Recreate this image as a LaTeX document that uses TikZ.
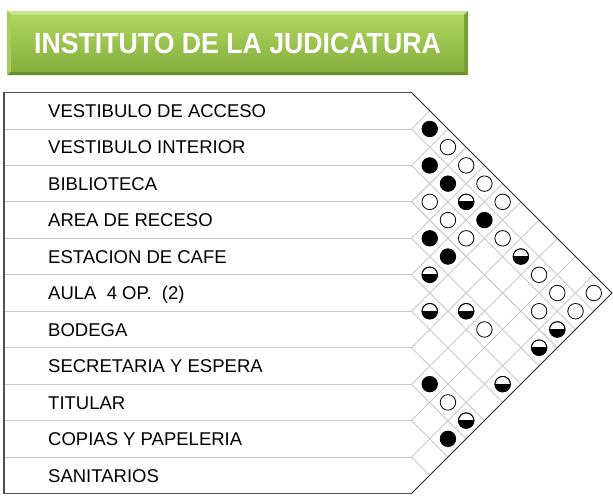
\documentclass[tikz,border=0pt]{standalone}
\usepackage{fontspec}
\setmainfont{Liberation Sans}
\newfontfamily\titlefont[FakeStretch=0.92]{Liberation Sans}
\definecolor{gridgray}{HTML}{C8C8C8}
\definecolor{bordergray}{HTML}{505050}
\definecolor{gtop}{HTML}{AED65E}
\definecolor{gbot}{HTML}{86AE3E}
\definecolor{gedge}{HTML}{7DA336}
\definecolor{glight}{HTML}{C6E48A}
\definecolor{gdark}{HTML}{6A8E2C}
\begin{document}
\begin{tikzpicture}[x=1pt,y=-1pt,
  rowline/.style={gridgray,line width=0.9pt},
  gridline/.style={gridgray,line width=0.9pt},
  border/.style={bordergray,line width=1.4pt},
  diag/.style={black!85,line width=1pt},
  rowlabel/.style={anchor=base west,inner sep=0,font=\fontsize{18.5}{20}\selectfont},
  fullrel/.style={circle,draw=black,fill=black,minimum size=15.5pt,inner sep=0,outer sep=0,line width=0.8pt},
  emptyrel/.style={circle,draw=black,fill=white,minimum size=15.5pt,inner sep=0,outer sep=0,line width=0.8pt},
  titlebox/.style={inner sep=0,text=white,font=\titlefont\bfseries\fontsize{29}{32}\selectfont}]
\useasboundingbox (0,0) rectangle (613,496);
\pgfmathsetmacro\T{92.5}
\pgfmathsetmacro\B{493.5}
\pgfmathsetmacro\XR{411.5}
\pgfmathsetmacro\H{(\B-\T)/11}
\pgfmathsetmacro\M{(\T+\B)/2}
\pgfmathsetmacro\XT{\XR+(\B-\T)/2}
% title box
\fill[gedge] (7,11) rectangle (468,75);
\fill[glight] (7,11) -- (468,11) -- (464,15) -- (11,15) -- cycle;
\fill[gdark] (7,75) -- (468,75) -- (464,71) -- (11,71) -- cycle;
\fill[gtop!85!gbot] (7,11) -- (11,15) -- (11,71) -- (7,75) -- cycle;
\fill[gbot!90!black] (468,11) -- (464,15) -- (464,71) -- (468,75) -- cycle;
\shade[top color=gtop,bottom color=gbot] (11,15) rectangle (464,71);
\node[titlebox] (title) at (237.5,44) {INSTITUTO DE LA JUDICATURA};
% table rows and grid
\foreach \k in {1,...,10} {
  \pgfmathsetmacro\yk{\T+\k*\H}
  \pgfmathsetmacro\tu{(\yk-\T)/2}
  \pgfmathsetmacro\td{(\B-\yk)/2}
  \draw[rowline] (4,\yk) -- (\XR,\yk);
  \draw[gridline] (\XR,\yk) -- ++(\tu,-\tu);
  \draw[gridline] (\XR,\yk) -- ++(\td,\td);
}
\draw[border] (4,\B) -- (4,\T) -- (\XR,\T);
\draw[border] (4,\B) -- (\XR,\B);
\draw[diag] (\XR,\T) -- (\XT,\M) -- (\XR,\B);
% labels
\foreach \lab [count=\n from 0] in {VESTIBULO DE ACCESO,VESTIBULO INTERIOR,BIBLIOTECA,AREA DE RECESO,ESTACION DE CAFE,AULA\ \ 4 OP.\ \ (2),BODEGA,SECRETARIA Y ESPERA,TITULAR,COPIAS Y PAPELERIA,SANITARIOS} {
  \pgfmathsetmacro\yb{\T+(\n+0.5)*\H+6.8}
  \node[rowlabel] (r\n) at (48,\yb) {\lab};
}
% relations: full
\foreach \i/\j in {0/1,1/2,1/3,1/5,3/4,3/5,7/8,8/10} {
  \pgfmathsetmacro\cx{\XR+(\j-\i)*\H/2}
  \pgfmathsetmacro\cy{\T+(\i+\j+1)*\H/2}
  \node[fullrel] (f\i-\j) at (\cx,\cy) {};
}
% relations: empty
\foreach \i/\j in {0/2,0/3,0/4,2/3,0/5,2/4,2/5,1/6,1/8,1/9,0/10,2/9,1/10,4/8,7/9} {
  \pgfmathsetmacro\cx{\XR+(\j-\i)*\H/2}
  \pgfmathsetmacro\cy{\T+(\i+\j+1)*\H/2}
  \node[emptyrel] (e\i-\j) at (\cx,\cy) {};
}
% relations: half
\foreach \i/\j in {1/4,1/7,4/5,5/6,4/7,2/10,3/10,5/10,7/10} {
  \pgfmathsetmacro\cx{\XR+(\j-\i)*\H/2}
  \pgfmathsetmacro\cy{\T+(\i+\j+1)*\H/2}
  \node[emptyrel] (h\i-\j) at (\cx,\cy) {};
  \fill[black] (h\i-\j.west) arc[start angle=180,end angle=360,radius=7.75pt] -- cycle;
  \draw[black,line width=0.8pt] (h\i-\j.west) -- (h\i-\j.east);
  \draw[black,line width=0.8pt] (h\i-\j.center) circle[radius=7.75pt];
}
\end{tikzpicture}
\end{document}
